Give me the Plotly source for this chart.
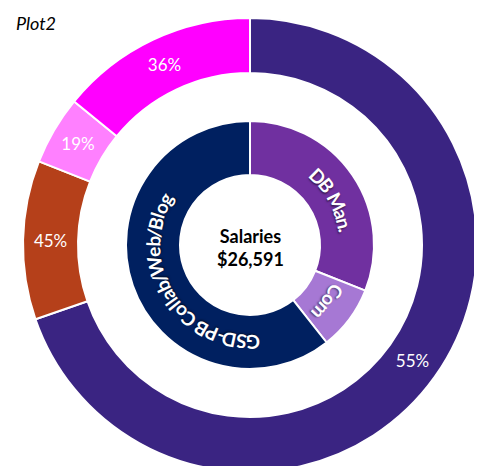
import math
import plotly.graph_objects as go

# ---------------- data ----------------
outer_labels = ["55%", "45%", "19%", "36%"]
outer_values = [69.7, 11.3, 4.9, 14.1]

inner_labels = ["DB Man.", "Com", "GSD-PB Collab/Web/Blog"]
inner_values = [31.0, 8.4, 60.6]

center_title = "Salaries"
center_total = "$26,591"
chart_title = "Plot2"

# ---------------- style ----------------
outer_colors = ["#3A2482", "#B5401A", "#FF80FF", "#FF00FF"]
inner_colors = ["#7030A0", "#A678D4", "#002060"]
FONT = "Lato"

OFF = 8                    # page body margin
W, H = 482, 480
CX, CY = 250 - OFF, 245 - OFF   # ring centre in figure pixels
R_OUT, R_OUT_HOLE = 227, 172
R_IN, R_IN_HOLE = 124, 70
R_TEXT = 97                # radius of the curved inner labels
LABEL_SIZE = 19
label_shift = [6, 0, -13]  # angular nudges (deg) for the curved labels


def dom(r):
    return dict(x=[(CX - r) / W, (CX + r) / W],
                y=[(H - CY - r) / H, (H - CY + r) / H])


fig = go.Figure()
fig.add_trace(go.Pie(
    values=outer_values, text=outer_labels, textinfo="text",
    sort=False, direction="clockwise", rotation=0,
    hole=R_OUT_HOLE / R_OUT, domain=dom(R_OUT),
    marker=dict(colors=outer_colors, line=dict(color="white", width=2)),
    textposition="inside", insidetextorientation="horizontal",
    textfont=dict(family=FONT, size=17, color="white"),
    hoverinfo="skip", showlegend=False,
))
fig.add_trace(go.Pie(
    values=inner_values, labels=inner_labels, textinfo="none",
    sort=False, direction="clockwise", rotation=0,
    hole=R_IN_HOLE / R_IN, domain=dom(R_IN),
    marker=dict(colors=inner_colors, line=dict(color="white", width=2)),
    hoverinfo="skip", showlegend=False,
))

# approximate advance widths (em) for Lato Bold
CW = {"G": .70, "S": .53, "D": .72, "-": .34, "P": .60, "B": .63, " ": .22,
      "C": .64, "o": .56, "l": .27, "a": .51, "b": .56, "/": .38, "W": .98,
      "e": .52, "g": .51, "M": .87, "n": .56, ".": .24, "m": .84}

annotations = []


def curved_label(text, mid_deg, r, size):
    total = sum(CW.get(ch, .55) for ch in text) * size
    start = mid_deg - math.degrees(total / r) / 2
    pos = 0.0
    for ch in text:
        cw = CW.get(ch, .55) * size
        ang = start + math.degrees((pos + cw / 2) / r)
        pos += cw
        if ch == " ":
            continue
        a = math.radians(ang)
        px = CX + r * math.sin(a)
        py = CY - r * math.cos(a)
        ta = ((ang + 180) % 360) - 180
        annotations.append(dict(
            x=px / W, y=1 - py / H, xref="paper", yref="paper",
            text=f"<b>{ch}</b>", showarrow=False, textangle=ta,
            xanchor="center", yanchor="middle",
            font=dict(family=FONT, size=size, color="white",
                      shadow="1px 1px 2px rgba(0,0,0,0.55)"),
        ))


tot = sum(inner_values)
cum = 0.0
for lab, v, sh in zip(inner_labels, inner_values, label_shift):
    mid = (cum + v / 2) / tot * 360 + sh
    cum += v
    curved_label(lab, mid, R_TEXT, LABEL_SIZE)

annotations.append(dict(
    x=CX / W, y=1 - (CY + 2) / H, xref="paper", yref="paper",
    text=f"<b>{center_title}</b><br><b>{center_total}</b>", showarrow=False,
    xanchor="center", yanchor="middle",
    font=dict(family=FONT, size=18, color="black"),
))
annotations.append(dict(
    x=(14 - OFF) / W, y=1 - (23 - OFF) / H, xref="paper", yref="paper",
    text=f"<i>{chart_title}</i>", showarrow=False,
    xanchor="left", yanchor="middle",
    font=dict(family=FONT, size=18, color="black"),
))

fig.update_layout(
    width=W, height=H,
    margin=dict(l=0, r=0, t=0, b=0),
    paper_bgcolor="white", plot_bgcolor="white",
    showlegend=False,
    uniformtext=dict(minsize=17, mode="show"),
    annotations=annotations,
)

fig.write_html("out.html")
